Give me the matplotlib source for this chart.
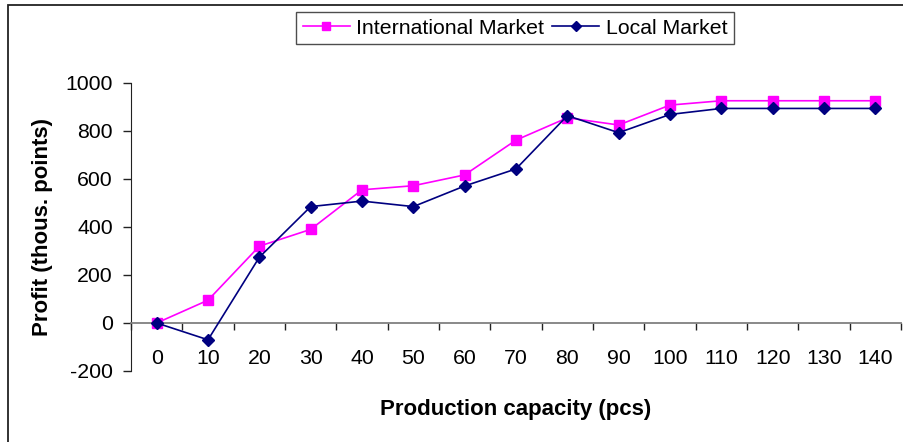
import matplotlib
matplotlib.use("Agg")
import matplotlib.pyplot as plt
from matplotlib.patches import Rectangle

capacity = [0, 10, 20, 30, 40, 50, 60, 70, 80, 90, 100, 110, 120, 130, 140]
international = [0, 95, 320, 390, 555, 572, 617, 762, 855, 825, 908, 926, 926, 926, 926]
local = [0, -70, 274, 485, 508, 485, 571, 642, 864, 793, 869, 894, 894, 894, 894]
y_ticks = [-200, 0, 200, 400, 600, 800, 1000]

plt.rcParams['font.family'] = ['Liberation Sans', 'DejaVu Sans']

W, H = 904, 442
fig = plt.figure(figsize=(W / 100, H / 100), dpi=100)

# outer frame of the chart area
fig.add_artist(Rectangle((8 / W, -0.1), 1.2, (H - 5) / H + 0.1, transform=fig.transFigure,
                         fill=False, edgecolor='#222222', linewidth=1.3))

left, right, top, bottom = 131, 901, 83, 371
ax = fig.add_axes([left / W, (H - bottom) / H, (right - left) / W, (bottom - top) / H])

idx = list(range(len(capacity)))
ax.plot(idx, international, color='#ff00ff', marker='s', markersize=7, linewidth=1.2,
        label='International Market', zorder=3)
ax.plot(idx, local, color='#000080', marker='D', markersize=6, linewidth=1.2,
        label='Local Market', zorder=4)

ax.set_xlim(-0.5, len(capacity) - 0.5)
ax.set_ylim(-200, 1000)
ax.set_yticks(y_ticks)
ax.set_yticklabels([str(v) for v in y_ticks], fontsize=15.3)

for s in ('top', 'right'):
    ax.spines[s].set_visible(False)
ax.spines['left'].set_color('#222222')
ax.spines['bottom'].set_position(('data', 0))
ax.spines['bottom'].set_color('#808080')
ax.spines['bottom'].set_linewidth(1.3)

ax.tick_params(axis='y', direction='out', length=5.5, width=1, color='#222222', pad=7.5)

# category labels centred on each point, tick marks between categories
ax.set_xticks(idx)
ax.set_xticklabels([str(c) for c in capacity], fontsize=15.3)
ax.set_xticks([i - 0.5 for i in idx] + [len(idx) - 0.5], minor=True)
ax.tick_params(axis='x', which='major', length=0, pad=19)
ax.tick_params(axis='x', which='minor', direction='out', length=5, width=1, color='#222222')

ax.set_ylabel('Profit (thous. points)', fontsize=16, fontweight='bold')
ax.yaxis.set_label_coords(-78 / (right - left), 0.5)
fig.text((left + right) / 2 / W, 1 - 410 / H, 'Production capacity (pcs)', fontsize=16,
         fontweight='bold', ha='center', va='center')

leg = fig.legend(loc='center', bbox_to_anchor=(515 / W, 1 - 28 / H), ncol=2, fontsize=15.3,
                 frameon=True, fancybox=False, edgecolor='#222222', handlelength=2.2,
                 columnspacing=0.4, handletextpad=0.3, borderpad=0.3, markerscale=0.8)
leg.get_frame().set_linewidth(1.0)

fig.savefig('out.png', dpi=100)
